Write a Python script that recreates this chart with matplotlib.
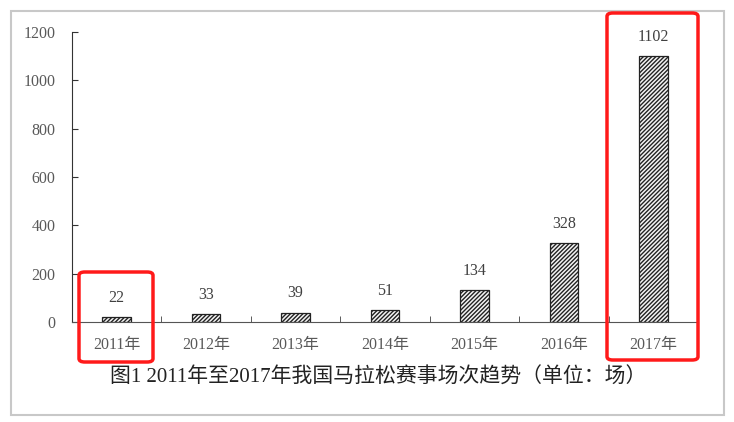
import matplotlib
matplotlib.use("Agg")
import matplotlib.pyplot as plt
from matplotlib.patches import FancyBboxPatch, Rectangle

years = ["2011年", "2012年", "2013年", "2014年", "2015年", "2016年", "2017年"]
counts = [22, 33, 39, 51, 134, 328, 1102]
yticks = [0, 200, 400, 600, 800, 1000, 1200]
caption = "图1 2011年至2017年我国马拉松赛事场次趋势（单位：场）"

fam = ["Liberation Serif", "Noto Sans CJK SC", "DejaVu Sans"]
plt.rcParams["font.family"] = fam
plt.rcParams["hatch.color"] = "#3a3a3a"
plt.rcParams["hatch.linewidth"] = 1.0

fig = plt.figure(figsize=(7.34, 4.22), dpi=100)
fig.patch.set_facecolor("white")

# outer frame
fig.add_artist(Rectangle((11/734, 1-415/422), (724-11)/734, (415-11)/422,
                         transform=fig.transFigure, fill=False,
                         edgecolor="#c8c8c8", linewidth=1.5))

ax = fig.add_axes([72/734, 1-322/422, (698-72)/734, (322-32)/422])
x = list(range(len(years)))
bars = ax.bar(x, counts, width=0.32, facecolor="#f4f4f4", edgecolor="#222222",
              linewidth=0.9, hatch="////////")
for xi, v in zip(x, counts):
    ax.annotate(str(v), (xi, v), xytext=(0, 8), textcoords="offset points",
                ha="center", va="bottom", fontsize=11.5, color="#404040")

ax.set_xlim(-0.5, len(years) - 0.5)
ax.set_ylim(0, 1200)
ax.set_yticks(yticks)
ax.set_yticklabels([str(t) for t in yticks], fontsize=11.5, color="#595959")
ax.set_xticks(x)
ax.set_xticklabels(years, fontsize=11.5, color="#595959")
ax.tick_params(axis="x", length=0, pad=11)
ax.set_xticks([i + 0.5 for i in x[:-1]], minor=True)
ax.tick_params(axis="x", which="minor", direction="in", length=4, color="#404040")
ax.tick_params(axis="y", direction="in", length=4, pad=12, color="#333333")
for s in ["top", "right"]:
    ax.spines[s].set_visible(False)
ax.spines["left"].set_color("#333333")
ax.spines["bottom"].set_color("#555555")

fig.text(378/734, 1-378/422, caption, ha="center", va="center",
         fontsize=15, color="#222222")

# red highlight boxes
for (x0, y0, x1, y1) in [(79, 272, 153, 362), (607, 13, 698, 360)]:
    fig.add_artist(FancyBboxPatch((x0/734, 1-y1/422), (x1-x0)/734, (y1-y0)/422,
                                  boxstyle="round,pad=0,rounding_size=0.008",
                                  transform=fig.transFigure, fill=False,
                                  edgecolor="#ff1a1a", linewidth=2.5))

fig.savefig("out.png", dpi=100)
